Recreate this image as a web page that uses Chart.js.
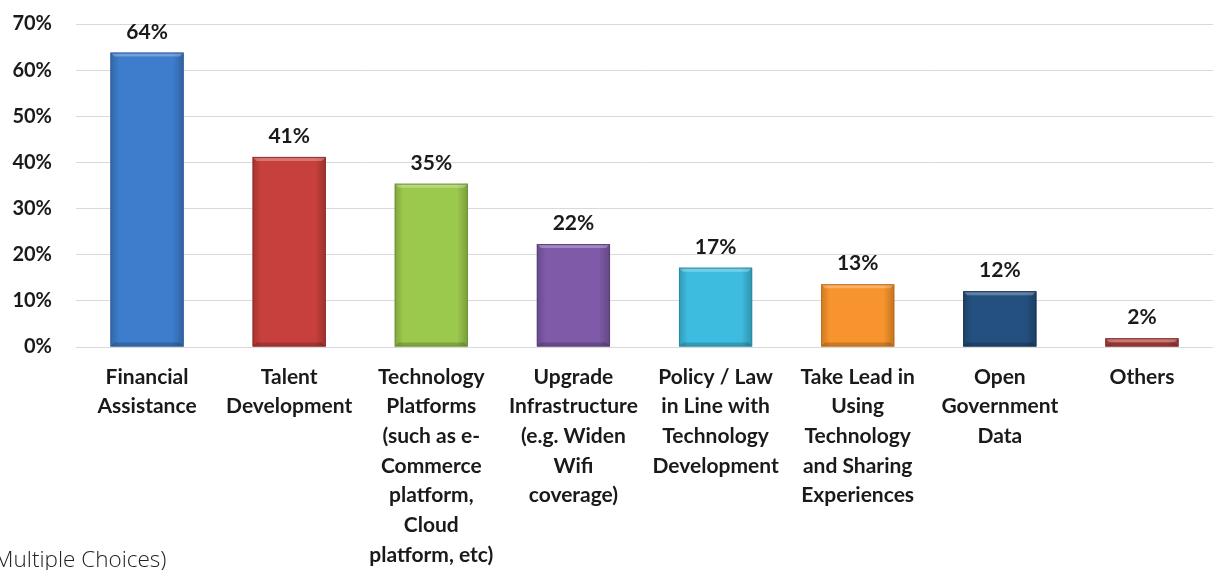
<!DOCTYPE html>
<html>
<head>
<meta charset="utf-8">
<script src="https://cdn.jsdelivr.net/npm/chart.js@4"></script>
<style>
  html,body{margin:0;padding:0;background:#fff;overflow:hidden;}
  #wrap{position:relative;width:1213px;height:570px;}
  #note{position:absolute;left:-12px;top:543px;font-family:"Open Sans","Noto Sans",sans-serif;font-weight:300;font-size:22.5px;color:#222;white-space:nowrap;}
</style>
</head>
<body>
<div id="wrap">
  <canvas id="c" width="1213" height="570"></canvas>
  <div id="note">(Multiple Choices)</div>
</div>
<script>
const categories = [
  ['Financial','Assistance'],
  ['Talent','Development'],
  ['Technology','Platforms','(such as e-','Commerce','platform,','Cloud','platform, etc)'],
  ['Upgrade','Infrastructure','(e.g. Widen','Wifi','coverage)'],
  ['Policy / Law','in Line with','Technology','Development'],
  ['Take Lead in','Using','Technology','and Sharing','Experiences'],
  ['Open','Government','Data'],
  ['Others']
];
const values = [63.8, 41.2, 35.4, 22.3, 17.2, 13.6, 12.1, 1.9];
const pctLabels = ['64%','41%','35%','22%','17%','13%','12%','2%'];
const barColors = ['#3d7dcc','#c8403d','#9bc94d','#7f5aa8','#3dbcdf','#f8942d','#24507f','#b44441'];
const edgeColors = ['#2c5f9e','#8f2d2b','#6f9434','#5a3f7a','#2a8aa6','#c06c1a','#163657','#7f2e2c'];
const yTicks = [0,10,20,30,40,50,60,70];

const FONT = 'Lato, "Open Sans", sans-serif';

// bevel + value labels on top of bars
const barDeco = {
  id:'barDeco',
  afterDatasetsDraw(chart){
    const ctx = chart.ctx;
    const meta = chart.getDatasetMeta(0);
    meta.data.forEach((bar,i)=>{
      const l = bar.x - bar.width/2, r = bar.x + bar.width/2;
      const t = bar.y, b = bar.base;
      const h = b - t;
      ctx.save();
      const g = ctx.createLinearGradient(l,0,r,0);
      g.addColorStop(0,'rgba(0,0,0,0.18)');
      g.addColorStop(0.12,'rgba(0,0,0,0)');
      g.addColorStop(0.85,'rgba(0,0,0,0)');
      g.addColorStop(1,'rgba(0,0,0,0.22)');
      ctx.fillStyle = g;
      ctx.fillRect(l,t,r-l,h);
      const bev = Math.min(4,h/2);
      ctx.fillStyle='rgba(255,255,255,0.28)';
      ctx.beginPath();
      ctx.moveTo(l,t);ctx.lineTo(r,t);ctx.lineTo(r-bev,t+bev);ctx.lineTo(l+bev,t+bev);ctx.closePath();
      ctx.fill();
      ctx.fillStyle='rgba(0,0,0,0.18)';
      ctx.beginPath();
      ctx.moveTo(l,b);ctx.lineTo(r,b);ctx.lineTo(r-bev,b-bev);ctx.lineTo(l+bev,b-bev);ctx.closePath();
      ctx.fill();
      ctx.strokeStyle = edgeColors[i];
      ctx.lineWidth = 1;
      ctx.strokeRect(l+0.5,t+0.5,r-l-1,h-1);
      ctx.fillStyle='#1a1a1a';
      ctx.font='bold 21px '+FONT;
      ctx.textAlign='center';
      ctx.textBaseline='alphabetic';
      ctx.fillText(pctLabels[i], bar.x, t-14);
      ctx.restore();
    });
  }
};

new Chart(document.getElementById('c'),{
  type:'bar',
  data:{
    labels:categories,
    datasets:[{
      data:values,
      backgroundColor:barColors,
      borderWidth:0,
      categoryPercentage:1,
      barPercentage:0.515
    }]
  },
  options:{
    responsive:false,
    animation:false,
    layout:{padding:{top:24,right:0,left:0,bottom:0}},
    plugins:{legend:{display:false},tooltip:{enabled:false}},
    scales:{
      x:{
        grid:{display:false,drawTicks:false},
        border:{display:false},
        ticks:{
          autoSkip:false,maxRotation:0,minRotation:0,
          color:'#1a1a1a',padding:15,
          font:{family:FONT,size:21,weight:'bold',lineHeight:1.415}
        },
        afterFit(s){ s.height = 223; s.paddingLeft = 0; s.paddingRight = 0; }
      },
      y:{
        min:0,max:70,
        afterBuildTicks(s){ s.ticks = yTicks.map(v=>({value:v})); },
        grid:{color:'#d9d9d9',drawTicks:false,lineWidth:1},
        border:{display:false},
        ticks:{
          color:'#1a1a1a',padding:24,
          font:{family:FONT,size:20,weight:'bold'},
          callback:v=>v+'%'
        },
        afterFit(s){ s.width = 76; s.paddingTop = 0; s.paddingBottom = 0; }
      }
    }
  },
  plugins:[barDeco]
});
</script>
</body>
</html>
